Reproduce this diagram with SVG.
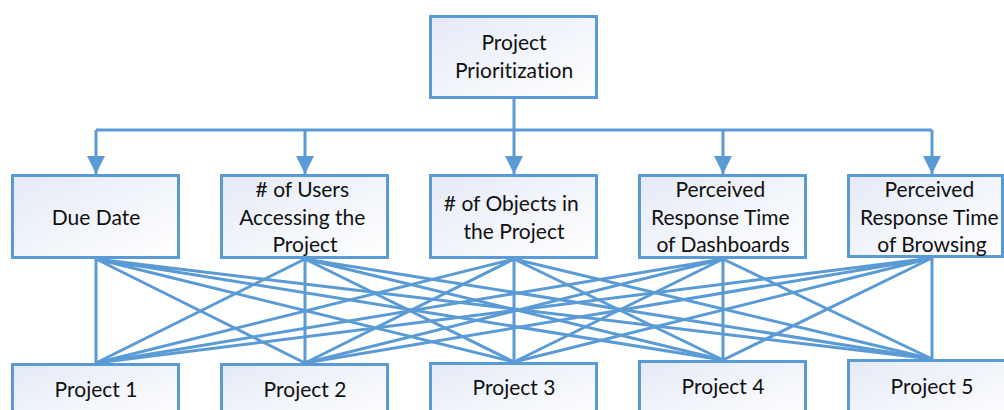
<svg xmlns="http://www.w3.org/2000/svg" width="1004" height="410" viewBox="0 0 1004 410">
<style>
.box{fill:url(#g);stroke:#5B9BD5;stroke-width:3}
.ln{stroke:#5B9BD5;stroke-width:3;fill:none}
.t{font-family:Lato,"Liberation Sans",sans-serif;font-size:21px;fill:#111;text-anchor:middle;font-variant-ligatures:none}
</style>
<defs>
<linearGradient id="g" x1="0" y1="0" x2="1" y2="1">
<stop offset="0" stop-color="#e4eaf6"/>
<stop offset="1" stop-color="#ffffff"/>
</linearGradient>
<marker id="ar" markerUnits="userSpaceOnUse" markerWidth="18" markerHeight="18" refX="18" refY="9" orient="auto">
<path d="M0,0 L18,9 L0,18 z" fill="#5B9BD5"/>
</marker>
</defs>
<g id="connectors">
<path class="ln" d="M514,99 V130 M96,130 H932"/>
<path class="ln" marker-end="url(#ar)" d="M96,130 V174"/>
<path class="ln" marker-end="url(#ar)" d="M305,130 V174"/>
<path class="ln" marker-end="url(#ar)" d="M514,130 V174"/>
<path class="ln" marker-end="url(#ar)" d="M723,130 V174"/>
<path class="ln" marker-end="url(#ar)" d="M932,130 V174"/>
<path class="ln" d="M96,259 L96,363 M96,259 L305,363 M96,259 L514,362 M96,259 L723,360 M96,259 L932,359"/>
<path class="ln" d="M305,259 L96,363 M305,259 L305,363 M305,259 L514,362 M305,259 L723,360 M305,259 L932,359"/>
<path class="ln" d="M514,259 L96,363 M514,259 L305,363 M514,259 L514,362 M514,259 L723,360 M514,259 L932,359"/>
<path class="ln" d="M723,259 L96,363 M723,259 L305,363 M723,259 L514,362 M723,259 L723,360 M723,259 L932,359"/>
<path class="ln" d="M932,258 L96,363 M932,258 L305,363 M932,258 L514,362 M932,258 L723,360 M932,258 L932,359"/>
</g>
<g id="n-root">
<rect class="box" x="430.5" y="16.5" width="166" height="81"/>
<text class="t" x="514" y="50">Project</text>
<text class="t" x="514" y="78">Prioritization</text>
</g>
<g id="n-due">
<rect class="box" x="12.5" y="175.5" width="166" height="82"/>
<text class="t" x="96" y="225">Due Date</text>
</g>
<g id="n-users">
<rect class="box" x="221.5" y="175.5" width="166" height="82"/>
<text class="t" x="305" y="197">
<tspan x="305">
# of Users</tspan>
<tspan x="305" dy="27.5">Accessing the</tspan>
<tspan x="305" dy="27.5">Project</tspan>
</text>
</g>
<g id="n-objects">
<rect class="box" x="430.5" y="175.5" width="166" height="82"/>
<text class="t" x="514" y="211">
<tspan x="514">
# of Objects in</tspan>
<tspan x="514" dy="27.5">the Project</tspan>
</text>
</g>
<g id="n-dash">
<rect class="box" x="639.5" y="175.5" width="166" height="82"/>
<text class="t" x="723" y="197">
<tspan x="723">Perceived</tspan>
<tspan x="723" dy="27.5">Response Time</tspan>
<tspan x="723" dy="27.5">of Dashboards</tspan>
</text>
</g>
<g id="n-browse">
<rect class="box" x="848.5" y="175.5" width="154" height="81"/>
<text class="t" x="932" y="197">
<tspan x="932">Perceived</tspan>
<tspan x="932" dy="27.5">Response Time</tspan>
<tspan x="932" dy="27.5">of Browsing</tspan>
</text>
</g>
<g id="n-p1">
<rect class="box" x="12.5" y="364.5" width="166" height="60"/>
<text class="t" x="96" y="397">Project 1</text>
</g>
<g id="n-p2">
<rect class="box" x="221.5" y="364.5" width="166" height="60"/>
<text class="t" x="305" y="397">Project 2</text>
</g>
<g id="n-p3">
<rect class="box" x="430.5" y="363.5" width="166" height="60"/>
<text class="t" x="514" y="395">Project 3</text>
</g>
<g id="n-p4">
<rect class="box" x="639.5" y="361.5" width="166" height="60"/>
<text class="t" x="723" y="394">Project 4</text>
</g>
<g id="n-p5">
<rect class="box" x="848.5" y="360.5" width="166" height="60"/>
<text class="t" x="932" y="394">Project 5</text>
</g>
</svg>
